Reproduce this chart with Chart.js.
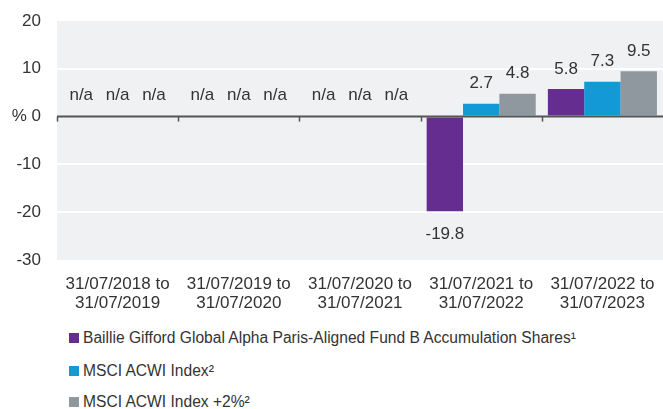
<!DOCTYPE html>
<html><head><meta charset="utf-8">
<script src="https://cdn.jsdelivr.net/npm/chart.js@4/dist/chart.umd.min.js"></script>
<style>
html,body{margin:0;padding:0;background:#fff;}
#wrap{position:relative;width:663px;height:409px;overflow:hidden;}
#c{position:absolute;left:0;top:0;}
.leg{position:absolute;left:69px;font-family:"Liberation Sans",Arial,sans-serif;font-size:15.6px;line-height:18px;color:#333;white-space:nowrap;}
.leg span{display:inline-block;width:10px;height:10px;margin-right:4px;vertical-align:0px;}
</style></head><body>
<div id="wrap">
<canvas id="c" width="663" height="320"></canvas>
<div class="leg" style="top:329px"><span style="background:#652d90"></span>Baillie Gifford Global Alpha Paris-Aligned Fund B Accumulation Shares¹</div>
<div class="leg" style="top:362px"><span style="background:#1299d6"></span>MSCI ACWI Index²</div>
<div class="leg" style="top:393px"><span style="background:#8f989e"></span>MSCI ACWI Index +2%²</div>
</div>
<script>
const categories = [
  ["31/07/2018 to","31/07/2019"],
  ["31/07/2019 to","31/07/2020"],
  ["31/07/2020 to","31/07/2021"],
  ["31/07/2021 to","31/07/2022"],
  ["31/07/2022 to","31/07/2023"]
];
const fundValues = [null, null, null, -19.8, 5.8];
const indexValues = [null, null, null, 2.7, 7.3];
const indexPlusValues = [null, null, null, 4.8, 9.5];
const seriesNames = ["Baillie Gifford Global Alpha Paris-Aligned Fund B Accumulation Shares¹","MSCI ACWI Index²","MSCI ACWI Index +2%²"];
const yTicks = [-30, -20, -10, 0, 10, 20];

const FONT = '"Liberation Sans", Arial, sans-serif';
const TXT = '#333333';

const bgPlugin = {
  id: 'bg',
  beforeDraw(chart) {
    const {ctx, chartArea: a} = chart;
    ctx.save();
    ctx.fillStyle = '#f0f1f3';
    ctx.fillRect(a.left, a.top, a.right - a.left, a.bottom - a.top);
    ctx.restore();
  },
  afterDatasetsDraw(chart) {
    const {ctx, chartArea: a, scales} = chart;
    const y0 = scales.y.getPixelForValue(0);
    ctx.save();
    ctx.strokeStyle = '#555555';
    ctx.lineWidth = 2;
    ctx.beginPath();
    ctx.moveTo(a.left, y0); ctx.lineTo(a.right, y0);
    ctx.stroke();
    ctx.lineWidth = 1.5;
    const n = categories.length;
    const w = (a.right - a.left) / n;
    for (let i = 0; i < n; i++) {
      const x = Math.round(a.left + i * w) + 0.5;
      ctx.beginPath(); ctx.moveTo(x, y0); ctx.lineTo(x, y0 + 5); ctx.stroke();
    }
    ctx.fillStyle = TXT;
    ctx.font = '17px ' + FONT;
    ctx.textAlign = 'center';
    ctx.textBaseline = 'middle';
    chart.data.datasets.forEach((ds, di) => {
      const meta = chart.getDatasetMeta(di);
      meta.data.forEach((bar, i) => {
        const v = ds.data[i];
        const x = bar.x;
        if (v === null) {
          ctx.fillText('n/a', x, y0 - 21);
        } else if (v >= 0) {
          ctx.fillText(v.toFixed(1), x, scales.y.getPixelForValue(v) - 20);
        } else {
          ctx.fillText(v.toFixed(1), x, scales.y.getPixelForValue(v) + 23);
        }
      });
    });
    ctx.restore();
  }
};

new Chart(document.getElementById('c'), {
  type: 'bar',
  data: {
    labels: categories,
    datasets: [
      {label: seriesNames[0], data: fundValues, backgroundColor: '#652d90'},
      {label: seriesNames[1], data: indexValues, backgroundColor: '#1299d6'},
      {label: seriesNames[2], data: indexPlusValues, backgroundColor: '#8f989e'}
    ]
  },
  options: {
    responsive: false,
    animation: false,
    layout: {padding: {top: 21, right: -3, left: 0, bottom: 0}},
    datasets: {bar: {categoryPercentage: 0.9, barPercentage: 1.0, borderWidth: 0}},
    plugins: {legend: {display: false}, tooltip: {enabled: false}},
    scales: {
      x: {
        grid: {display: false, drawTicks: false},
        border: {display: false},
        ticks: {color: TXT, font: {family: FONT, size: 17, lineHeight: 1.1}, padding: 15, maxRotation: 0, autoSkip: false},
        afterFit(s) { s.height = 60; s.paddingLeft = 0; s.paddingRight = 0; }
      },
      y: {
        min: -30, max: 20,
        afterBuildTicks(s) { s.ticks = yTicks.map(v => ({value: v})); },
        grid: {
          color: ctx => (ctx.tick && (ctx.tick.value === 0 || ctx.tick.value === 20 || ctx.tick.value === -30)) ? 'rgba(0,0,0,0)' : '#ffffff',
          lineWidth: 2, drawTicks: false
        },
        border: {display: false},
        ticks: {
          color: TXT, font: {family: FONT, size: 17}, padding: 16,
          callback: v => v === 0 ? '% 0' : String(v)
        },
        afterFit(s) { s.width = 57; s.paddingTop = 0; s.paddingBottom = 0; }
      }
    }
  },
  plugins: [bgPlugin]
});
</script>
</body></html>
